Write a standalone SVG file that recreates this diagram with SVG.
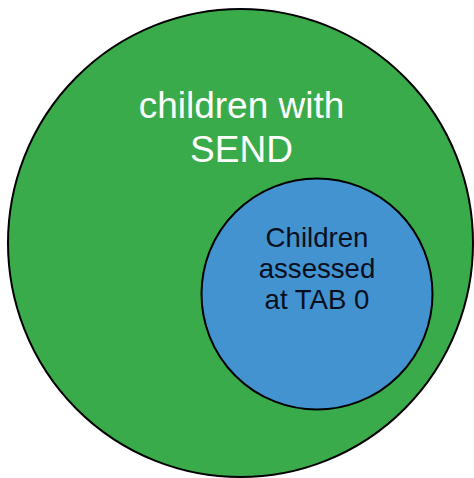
<svg xmlns="http://www.w3.org/2000/svg" width="474" height="478" viewBox="0 0 474 478">
<style>
.c{stroke:#000;stroke-width:2}
.big{font-family:"Liberation Sans",Arial,sans-serif;font-size:37px;fill:#fff;text-anchor:middle}
.small{font-family:"Liberation Sans",Arial,sans-serif;font-size:27.6px;fill:#0a0f1e;text-anchor:middle}
</style>
<rect width="474" height="478" fill="#fff"/>
<g id="send">
<ellipse class="c" cx="240.5" cy="243" rx="232.5" ry="234" fill="#3aab4a"/>
<text class="big" x="241.5" y="118">children with</text>
<text class="big" x="241.5" y="162">SEND</text>
</g>
<g id="tab0">
<circle class="c" cx="317" cy="294" r="115.5" fill="#4393d0"/>
<text class="small" x="317" y="247">Children</text>
<text class="small" x="317" y="278">assessed</text>
<text class="small" x="317" y="309">at TAB 0</text>
</g>
<g id="connectors"/>
</svg>
